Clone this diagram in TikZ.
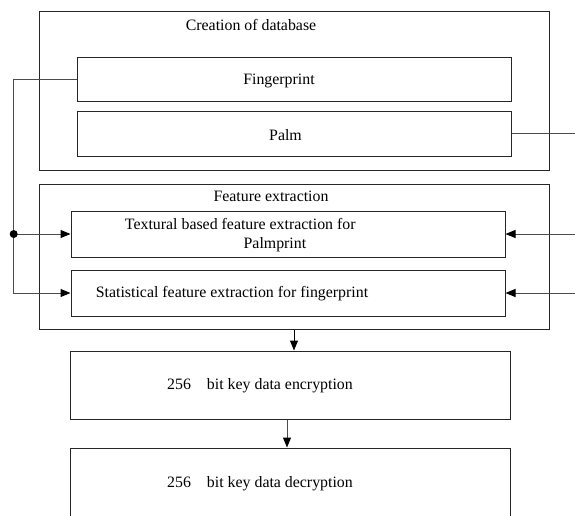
\documentclass[tikz,border=0pt]{standalone}
\usepackage{fontspec}
\setmainfont{Liberation Serif}
\usetikzlibrary{arrows.meta,fit}
\begin{document}
\begin{tikzpicture}[x=0.75pt,y=-0.75pt,
  box/.style={draw=black!85, inner sep=0pt, line width=0.75pt},
  txt/.style={inner sep=0pt, font=\fontsize{11.9}{14.25}\selectfont},
  arr/.style={-{Triangle[length=7.5pt,width=6pt,color=black]}},
  wire/.style={draw=black!70, line width=0.75pt}]
\useasboundingbox (0,0) rectangle (575,515);
\clip (0,0) rectangle (575,515);

% database stage
\node[box, fit={(39,11) (549,170)}] (db) {};
\node[txt] (dbt) at (251,25) {Creation of database};
\node[box, fit={(77,57) (511,101)}] (fp) {};
\node[txt] (fpt) at (279,80.5) {Fingerprint};
\node[box, fit={(77,111) (511,156)}] (palm) {};
\node[txt] (palmt) at (285.5,135.5) {Palm};

% feature extraction stage
\node[box, fit={(39,184) (549,329)}] (feat) {};
\node[txt] (featt) at (271,196.5) {Feature extraction};
\node[box, fit={(71,211) (505,257)}] (tex) {};
\node[txt, anchor=west, align=left] (text) at (124.7,235)
  {Textural based feature extraction for\\\hspace*{89pt}Palmprint};
\node[box, fit={(71,270) (505,316)}] (stat) {};
\node[txt] (statt) at (232,293.5) {Statistical feature extraction for fingerprint};

% encryption / decryption
\node[box, fit={(70,351) (510,419)}] (enc) {};
\node[txt] (enct) at (260,385.5) {256\hspace{12pt}bit key data encryption};
\node[box, fit={(70,448) (510,540)}] (dec) {};
\node[txt] (dect) at (260,483.5) {256\hspace{12pt}bit key data decryption};

% connectors
\coordinate (jn) at (13.7,234);
\coordinate (edge) at (577,0);
\draw[wire] (fp.west) -| (jn);
\draw[wire,arr] (jn) |- (stat.west);
\draw[wire,arr] (jn) -- (jn |- tex.west) -- (tex.west);
\fill[black] (jn) circle (3pt);

\draw[wire] (palm.east) -- (palm.east -| edge);
\draw[wire,arr] (tex.east -| edge) -- (tex.east);
\draw[wire,arr] (stat.east -| edge) -- (stat.east);

\draw[wire,draw=black,arr] (feat.south) -- (feat.south |- enc.north);
\draw[wire,arr] ([xshift=-2.25pt]enc.south) -- ([xshift=-2.25pt]enc.south |- dec.north);
\end{tikzpicture}
\end{document}
